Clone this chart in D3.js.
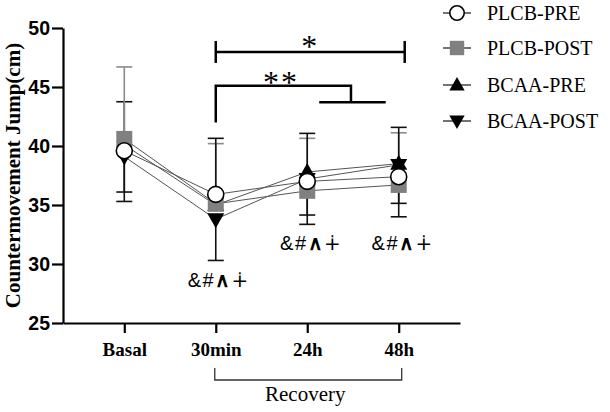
<!DOCTYPE html>
<html><head><meta charset="utf-8">
<script src="https://cdn.jsdelivr.net/npm/d3@7"></script>
<style>body{margin:0;background:#fff}svg{display:block}</style>
</head><body>
<svg id="c" width="610" height="412"></svg>
<script>
const categories = ["Basal", "30min", "24h", "48h"];
const yTicks = [25, 30, 35, 40, 45, 50];
const seriesNames = ["PLCB-PRE", "PLCB-POST", "BCAA-PRE", "BCAA-POST"];
const plcbPre  = [39.6, 35.9, 37.0, 37.4];
const plcbPost = [40.6, 35.1, 36.2, 36.7];
const bcaaPre  = [40.1, 35.0, 37.8, 38.5];
const bcaaPost = [39.1, 33.8, 37.2, 38.4];
// error bar ends (null = not drawn)
const plcbPreUp   = [null, 40.65, 41.07, 41.58];
const plcbPreDown = [36.1, null, null, 35.14];
const plcbPostUp  = [46.7, 40.2, 40.65, 41.12];
const plcbPostDown= [null, null, null, null];
const bcaaPreUp   = [43.75, null, null, null];
const bcaaPreDown = [null, null, 34.15, null];
const bcaaPostUp  = [null, null, null, null];
const bcaaPostDown= [35.3, 30.3, 33.36, 34.0];
const annotText = ["&", "#", "∧", "∔"];
const annotCats = ["30min", "24h", "48h"];

const series = [
  {name: seriesNames[3], v: bcaaPost, up: bcaaPostUp, dn: bcaaPostDown, sym: "down", ebc: "#111"},
  {name: seriesNames[2], v: bcaaPre, up: bcaaPreUp, dn: bcaaPreDown, sym: "up", ebc: "#111"},
  {name: seriesNames[1], v: plcbPost, up: plcbPostUp, dn: plcbPostDown, sym: "square", ebc: "#8a8a8a"},
  {name: seriesNames[0], v: plcbPre, up: plcbPreUp, dn: plcbPreDown, sym: "circle", ebc: "#111"}
];

const svg = d3.select("#c");
const x = d3.scalePoint().domain(categories).range([63, 460]).padding(0.67);
const y = d3.scaleLinear().domain([25, 50]).range([323, 28]);
const serif = "'Liberation Serif','Times New Roman',serif";
const sans = "'Liberation Sans',Arial,sans-serif";

function drawSym(g, type, cx, cy, s) {
  s = s || 1;
  if (type === "circle") {
    g.append("circle").attr("cx", cx).attr("cy", cy).attr("r", 8 * s)
      .attr("fill", "#fff").attr("stroke", "#000").attr("stroke-width", 1.6);
  } else if (type === "square") {
    g.append("rect").attr("x", cx - 8 * s).attr("y", cy - 8 * s).attr("width", 16 * s).attr("height", 16 * s)
      .attr("fill", "#808080");
  } else if (type === "up") {
    g.append("path").attr("d", `M${cx},${cy - 9 * s}L${cx + 8.5 * s},${cy + 6 * s}L${cx - 8.5 * s},${cy + 6 * s}Z`).attr("fill", "#000");
  } else {
    g.append("path").attr("d", `M${cx},${cy + 9 * s}L${cx + 8.5 * s},${cy - 6 * s}L${cx - 8.5 * s},${cy - 6 * s}Z`).attr("fill", "#000");
  }
}

// connecting lines
const line = d3.line().x((d, i) => x(categories[i])).y(d => y(d));
const gl = svg.append("g");
series.forEach(s => {
  gl.append("path").attr("d", line(s.v)).attr("fill", "none").attr("stroke", "#555").attr("stroke-width", 1);
});

// error bars
const ge = svg.append("g");
series.forEach(s => {
  categories.forEach((c, i) => {
    [s.up[i], s.dn[i]].forEach(e => {
      if (e === null) return;
      ge.append("line").attr("x1", x(c)).attr("x2", x(c)).attr("y1", y(s.v[i])).attr("y2", y(e))
        .attr("stroke", s.ebc).attr("stroke-width", 1.6);
      ge.append("line").attr("x1", x(c) - 8).attr("x2", x(c) + 8).attr("y1", y(e)).attr("y2", y(e))
        .attr("stroke", s.ebc).attr("stroke-width", 1.6);
    });
  });
});

// markers
const gm = svg.append("g");
series.forEach(s => {
  categories.forEach((c, i) => drawSym(gm, s.sym, x(c), y(s.v[i])));
});

// axes
const yAxis = svg.append("g").attr("transform", "translate(63,0)")
  .call(d3.axisLeft(y).tickValues(yTicks).tickSize(11).tickSizeOuter(0).tickPadding(2));
yAxis.selectAll("text").attr("font-family", sans).attr("font-weight", "bold").attr("font-size", 19.5).attr("fill", "#000");
const xAxis = svg.append("g").attr("transform", "translate(0,323)")
  .call(d3.axisBottom(x).tickSize(10).tickSizeOuter(0).tickPadding(10));
xAxis.selectAll("text").attr("font-family", serif).attr("font-weight", "bold").attr("font-size", 19).attr("fill", "#000");
svg.selectAll(".domain, .tick line").attr("stroke", "#000").attr("stroke-width", 2.2);

// y title
svg.append("text").attr("transform", `translate(20,${(y(25) + y(50)) / 2}) rotate(-90)`)
  .attr("text-anchor", "middle").attr("font-family", serif).attr("font-weight", "bold").attr("font-size", 21)
  .text("Countermovement Jump(cm)");

// recovery bracket
const by = 380;
svg.append("path").attr("d", `M${x("30min") - 1},${by - 12}V${by}H${x("48h") + 3}V${by - 12}`)
  .attr("fill", "none").attr("stroke", "#333").attr("stroke-width", 1.3);
svg.append("text").attr("x", (x("30min") + x("48h")) / 2 - 2).attr("y", 401).attr("text-anchor", "middle")
  .attr("font-family", serif).attr("font-size", 21).text("Recovery");

// annotations
annotCats.forEach(c => {
  const t = svg.append("text").attr("x", x(c) + (c === "30min" ? 3 : 4)).attr("y", c === "30min" ? 287 : 250)
    .attr("text-anchor", "middle").attr("font-family", sans).attr("font-size", 20).attr("letter-spacing", 1.5);
  annotText.forEach((ch, k) => {
    t.append("tspan").attr("font-weight", k === 2 ? "bold" : "normal")
      .attr("font-family", k === 3 ? "'DejaVu Sans',sans-serif" : sans).text(ch);
  });
});

// significance brackets
const sg = svg.append("g").attr("stroke", "#000").attr("stroke-width", 2.5).attr("fill", "none");
sg.append("line").attr("x1", x("30min")).attr("x2", x("48h") + 6).attr("y1", y(47.97)).attr("y2", y(47.97));
sg.append("line").attr("x1", x("30min")).attr("x2", x("30min")).attr("y1", y(47.97) - 11).attr("y2", y(47.97) + 11);
sg.append("line").attr("x1", x("48h") + 6).attr("x2", x("48h") + 6).attr("y1", y(47.97) - 11).attr("y2", y(47.97) + 11);
const mid = (x("24h") + x("48h")) / 2;
sg.append("path").attr("d", `M${x("30min")},${y(42.0)}V${y(45.1)}H${mid - 2}V${y(43.7)}`);
sg.append("line").attr("x1", x("24h") + 12).attr("x2", x("48h") - 13).attr("y1", y(43.7)).attr("y2", y(43.7));
svg.append("text").attr("x", (x("30min") + x("48h")) / 2 + 2).attr("y", 57).attr("text-anchor", "middle")
  .attr("font-family", serif).attr("font-size", 32).text("*");
svg.append("text").attr("x", 281).attr("y", 93).attr("text-anchor", "middle")
  .attr("font-family", serif).attr("font-size", 32).attr("letter-spacing", 2).text("**");

// legend
const legSyms = ["circle", "square", "up", "down"];
const legY = [13, 48, 85, 121];
seriesNames.forEach((n, i) => {
  const g = svg.append("g");
  g.append("line").attr("x1", 443).attr("x2", 471).attr("y1", legY[i]).attr("y2", legY[i])
    .attr("stroke", "#444").attr("stroke-width", 1.5);
  drawSym(g, legSyms[i], 457, legY[i], 0.9);
  g.append("text").attr("x", 487).attr("y", legY[i] + 7).attr("font-family", serif).attr("font-size", 20).text(n);
});
</script>
</body></html>
